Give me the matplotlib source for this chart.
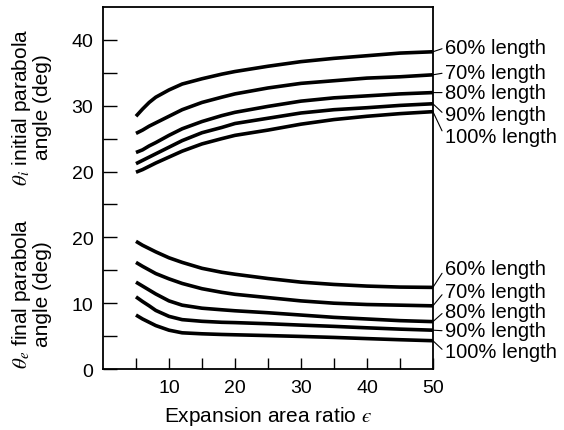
import matplotlib
matplotlib.use("Agg")
import matplotlib.pyplot as plt

plt.rcParams['font.family'] = ['Liberation Sans', 'DejaVu Sans']
plt.rcParams['mathtext.fontset'] = 'stix'

# expansion area ratio
eps = [5, 6, 7, 8, 10, 12, 15, 18, 20, 25, 30, 35, 40, 45, 50]
lengths = ["60% length", "70% length", "80% length", "90% length", "100% length"]

# initial parabola angle theta_i (deg)
theta_i_60 = [28.4, 29.5, 30.5, 31.3, 32.4, 33.3, 34.1, 34.8, 35.2, 36.0, 36.7, 37.2, 37.6, 38.0, 38.2]
theta_i_70 = [25.8, 26.3, 26.9, 27.4, 28.4, 29.4, 30.5, 31.3, 31.8, 32.7, 33.4, 33.8, 34.2, 34.4, 34.7]
theta_i_80 = [22.9, 23.3, 23.9, 24.4, 25.5, 26.5, 27.6, 28.5, 29.0, 29.9, 30.7, 31.2, 31.5, 31.8, 32.0]
theta_i_90 = [21.2, 21.7, 22.2, 22.7, 23.7, 24.7, 25.9, 26.7, 27.3, 28.1, 28.9, 29.4, 29.7, 30.05, 30.3]
theta_i_100 = [19.9, 20.3, 20.8, 21.3, 22.2, 23.1, 24.2, 25.0, 25.5, 26.3, 27.2, 27.9, 28.4, 28.8, 29.1]

# final parabola angle theta_e (deg)
theta_e_60 = [19.4, 18.8, 18.3, 17.8, 16.9, 16.2, 15.3, 14.7, 14.4, 13.75, 13.2, 12.85, 12.6, 12.45, 12.4]
theta_e_70 = [16.2, 15.6, 15.05, 14.5, 13.7, 13.0, 12.2, 11.65, 11.35, 10.85, 10.35, 10.0, 9.8, 9.7, 9.6]
theta_e_80 = [13.2, 12.6, 12.0, 11.4, 10.35, 9.7, 9.24, 9.0, 8.85, 8.55, 8.2, 7.85, 7.6, 7.35, 7.2]
theta_e_90 = [10.96, 10.25, 9.6, 8.9, 8.0, 7.5, 7.25, 7.1, 7.05, 6.88, 6.67, 6.48, 6.26, 6.06, 5.9]
theta_e_100 = [8.2, 7.6, 7.1, 6.6, 5.9, 5.5, 5.35, 5.25, 5.2, 5.08, 4.95, 4.8, 4.62, 4.45, 4.3]

theta_i = [theta_i_60, theta_i_70, theta_i_80, theta_i_90, theta_i_100]
theta_e = [theta_e_60, theta_e_70, theta_e_80, theta_e_90, theta_e_100]

# the upper group shares the axis, shifted up by 10 deg
offset = 10
top_label_y = [38.8, 35.0, 32.0, 28.6, 25.3]
bot_label_y = [15.2, 11.8, 8.8, 5.8, 2.6]

fig = plt.figure(figsize=(5.64, 4.31), dpi=100)
ax = fig.add_axes([0.1826, 0.1415, 0.585, 0.8399])

line_kw = dict(color="black", lw=2.6, solid_capstyle="butt", solid_joinstyle="round")
arrow_kw = dict(arrowstyle="-", lw=0.8, color="black", shrinkA=0, shrinkB=0, relpos=(0, 0.5))

for vals, lab, ly in zip(theta_i, lengths, top_label_y):
    ax.plot(eps, [v + offset for v in vals], **line_kw)
    ax.annotate(lab, xy=(eps[-1], vals[-1] + offset), xytext=(51.8, ly + offset),
                ha="left", va="center", fontsize=14.5, annotation_clip=False,
                arrowprops=arrow_kw)

for vals, lab, ly in zip(theta_e, lengths, bot_label_y):
    ax.plot(eps, vals, **line_kw)
    ax.annotate(lab, xy=(eps[-1], vals[-1]), xytext=(51.8, ly),
                ha="left", va="center", fontsize=14.5, annotation_clip=False,
                arrowprops=arrow_kw)

ax.set_xlim(0, 50)
ax.set_ylim(0, 55)
ax.set_xticks([10, 20, 30, 40, 50])
ax.set_xticks([5, 15, 25, 35, 45], minor=True)
ax.set_yticks([0, 10, 20, 30, 40, 50])
ax.set_yticklabels(["0", "10", "20", "20", "30", "40"])
ax.set_yticks([5, 15, 25, 35, 45], minor=True)
ax.tick_params(which="both", direction="in", labelsize=14, width=1.0, pad=7)
ax.tick_params(axis="x", which="both", length=8)
ax.tick_params(axis="y", which="both", length=10)
for s in ax.spines.values():
    s.set_linewidth(1.3)

ax.set_xlabel("Expansion area ratio $\u03f5$", fontsize=15, labelpad=6)

fig.text(0.055, 0.752, "$\\theta_i$ initial parabola\nangle (deg)", rotation=90,
         ha="center", va="center", multialignment="center", fontsize=15,
         linespacing=1.0)
fig.text(0.055, 0.318, "$\\theta_e$ final parabola\nangle (deg)", rotation=90,
         ha="center", va="center", multialignment="center", fontsize=15,
         linespacing=1.0)

fig.savefig("out.png", dpi=100)
